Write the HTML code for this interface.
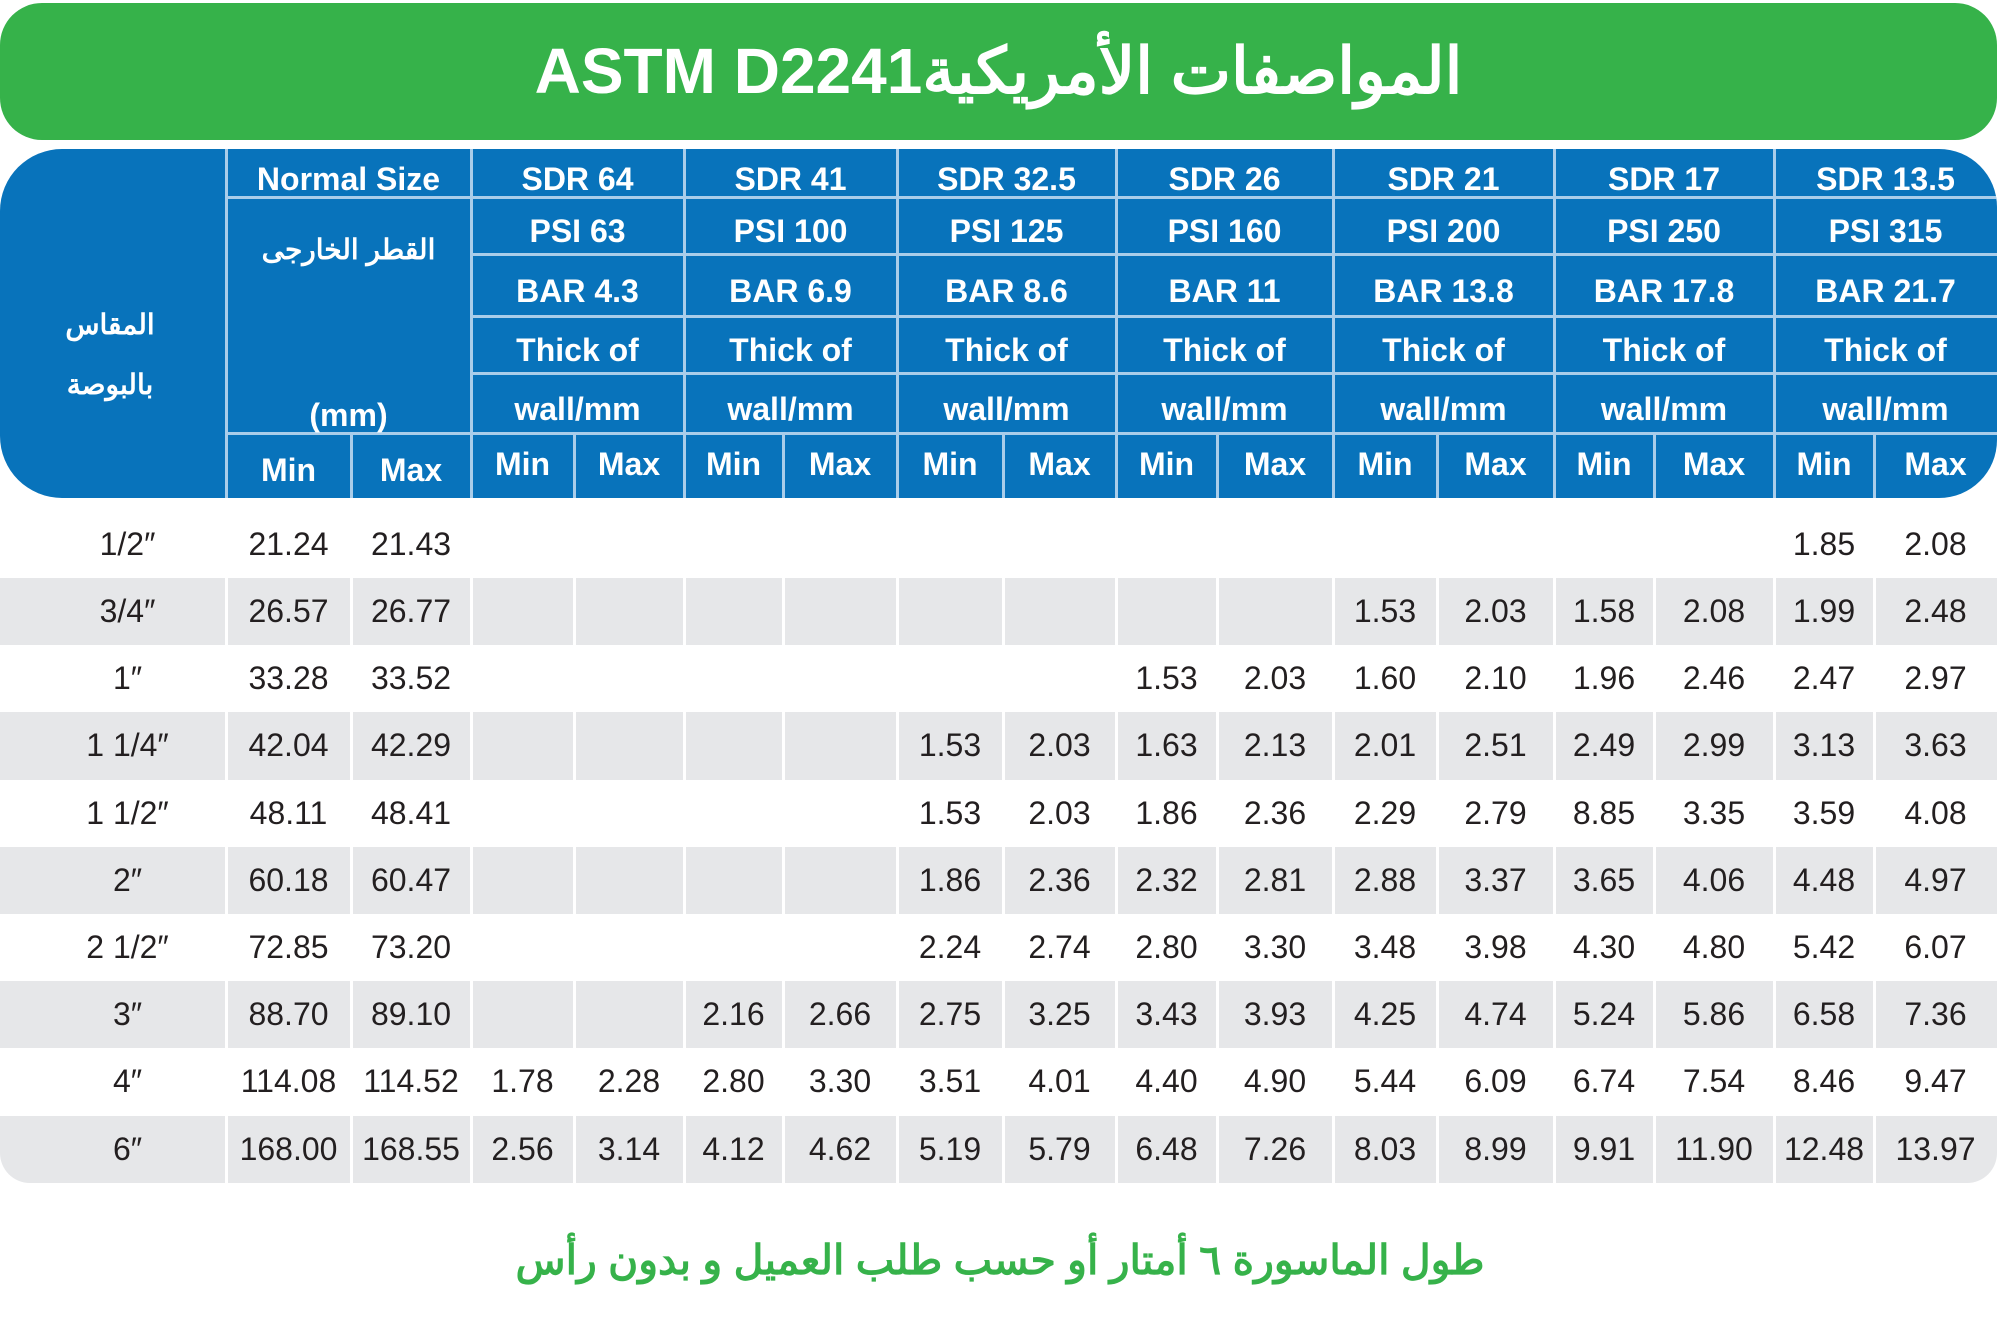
<!DOCTYPE html>
<html><head><meta charset="utf-8">
<style>
body{margin:0;width:2000px;height:1341px;background:#fff;position:relative;overflow:hidden;font-family:"Liberation Sans","Noto Sans CJK SC",sans-serif}
.abs{position:absolute;box-sizing:border-box}
#banner{left:0;top:3px;width:1997px;height:137px;background:#36b24a;border-radius:42px}
#title{left:0;top:3px;width:1997px;height:137px;line-height:137px;text-align:center;color:#fff;font-weight:bold;font-size:64px}
#head{left:0;top:149px;width:1997px;height:349px;background:#0873bb;border-radius:62px 58px 58px 62px;overflow:hidden}
.hl{background:#a9cdea}
.ht{color:#fff;font-weight:bold;font-size:32px;text-align:center;white-space:nowrap;padding-top:6px}
.dt{color:#231f20;font-size:32px;text-align:center;white-space:nowrap}
#foot{left:0;top:1236px;width:2000px;text-align:center;color:#36b24a;font-weight:bold;font-size:41px}
</style></head><body>
<div class="abs" id="banner"></div>
<div class="abs" id="title" dir="rtl">المواصفات الأمريكية<span dir="ltr">ASTM D2241</span></div>
<div class="abs" id="head"></div>
<div class="abs" id="rows" style="left:0;top:0"></div>
<div class="abs" id="foot" dir="rtl">طول الماسورة ٦ أمتار أو حسب طلب العميل و بدون رأس</div>
<script>
const sdrLabels=["SDR 64","SDR 41","SDR 32.5","SDR 26","SDR 21","SDR 17","SDR 13.5"];
const psiLabels=["PSI 63","PSI 100","PSI 125","PSI 160","PSI 200","PSI 250","PSI 315"];
const barLabels=["BAR 4.3","BAR 6.9","BAR 8.6","BAR 11","BAR 13.8","BAR 17.8","BAR 21.7"];
const sizes=["1/2″","3/4″","1″","1 1/4″","1 1/2″","2″","2 1/2″","3″","4″","6″"];
const odMin=["21.24","26.57","33.28","42.04","48.11","60.18","72.85","88.70","114.08","168.00"];
const odMax=["21.43","26.77","33.52","42.29","48.41","60.47","73.20","89.10","114.52","168.55"];
const wall=[
["","","","","","","","","","","","","1.85","2.08"],
["","","","","","","","","1.53","2.03","1.58","2.08","1.99","2.48"],
["","","","","","","1.53","2.03","1.60","2.10","1.96","2.46","2.47","2.97"],
["","","","","1.53","2.03","1.63","2.13","2.01","2.51","2.49","2.99","3.13","3.63"],
["","","","","1.53","2.03","1.86","2.36","2.29","2.79","8.85","3.35","3.59","4.08"],
["","","","","1.86","2.36","2.32","2.81","2.88","3.37","3.65","4.06","4.48","4.97"],
["","","","","2.24","2.74","2.80","3.30","3.48","3.98","4.30","4.80","5.42","6.07"],
["","","2.16","2.66","2.75","3.25","3.43","3.93","4.25","4.74","5.24","5.86","6.58","7.36"],
["1.78","2.28","2.80","3.30","3.51","4.01","4.40","4.90","5.44","6.09","6.74","7.54","8.46","9.47"],
["2.56","3.14","4.12","4.62","5.19","5.79","6.48","7.26","8.03","8.99","9.91","11.90","12.48","13.97"]];
const X=[0,226,351,471,574,684,783,897,1003,1116,1217,1333,1437,1554,1654,1774,1874,1997];
const head=document.getElementById('head');
function mk(parent,cls,x,y,w,h,txt){const d=document.createElement('div');d.className='abs '+cls;d.style.left=x+'px';d.style.top=y+'px';d.style.width=w+'px';d.style.height=h+'px';if(txt!==undefined){d.textContent=txt;d.style.lineHeight=h+'px';}parent.appendChild(d);return d;}
const HY=[0,48,105,167,224,284,349];
for(let c=1;c<X.length-1;c++){
  if(c===1||c>=3&&c%2===1){const l=mk(head,'hl',X[c]-1,0,3,349);}
  else {const l=mk(head,'hl',X[c]-1,284,3,65);}
}
[1,5].forEach(i=>{const l=mk(head,'hl',X[1],HY[i]-1,X[17]-X[1],3);});
[2,3,4].forEach(i=>{const l=mk(head,'hl',X[3],HY[i]-1,X[17]-X[3],3);});
let t;
t=mk(head,'ht',X[1],0,X[3]-X[1],48,'Normal Size');
t=mk(head,'ht',X[1],70,X[3]-X[1],50,'القطر الخارجى');t.style.fontSize='28px';
t=mk(head,'ht',X[1],236,X[3]-X[1],48,'(mm)');
t=mk(head,'ht',30,145,160,50,'المقاس');t.style.fontSize='28px';
t=mk(head,'ht',30,205,160,50,'بالبوصة');t.style.fontSize='28px';
for(let i=0;i<7;i++){
  const x=X[3+2*i],w=X[5+2*i]-x;
  t=mk(head,'ht',x,0,w,48,sdrLabels[i]);
  t=mk(head,'ht',x,48,w,57,psiLabels[i]);
  t=mk(head,'ht',x,105,w,62,barLabels[i]);
  t=mk(head,'ht',x,167,w,57,'Thick of');
  t=mk(head,'ht',x,224,w,60,'wall/mm');
}
for(let c=1;c<17;c++){
  t=mk(head,'ht',X[c],(c<3?290:284),X[c+1]-X[c],50,c%2===1?'Min':'Max');
}
const rowsEl=document.getElementById('rows');
const band0=578,rh=67.2;
for(let r=0;r<sizes.length;r++){
  const y=r===0?510:band0+(r-1)*rh;
  const h=r===0?68:rh;
  if(r%2===1){
    const last=r===sizes.length-1;
    for(let c=0;c<17;c++){
      const b=mk(rowsEl,'',X[c]+(c?1.5:0),y,X[c+1]-X[c]-(c?1.5:0)-(c<16?1.5:0),rh);
      b.style.background='#e6e7e9';
      if(last&&c===0)b.style.borderBottomLeftRadius='30px';
      if(last&&c===16)b.style.borderBottomRightRadius='30px';
      
      
    }
  }
  t=mk(rowsEl,'dt',20,y,215,h,sizes[r]);
  t=mk(rowsEl,'dt',X[1],y,X[2]-X[1],h,odMin[r]);
  t=mk(rowsEl,'dt',X[2],y,X[3]-X[2],h,odMax[r]);
  for(let k=0;k<14;k++){
    if(!wall[r][k])continue;
    t=mk(rowsEl,'dt',X[3+k],y,X[4+k]-X[3+k],h,wall[r][k]);
    
    
  }
}
</script>
</body></html>
